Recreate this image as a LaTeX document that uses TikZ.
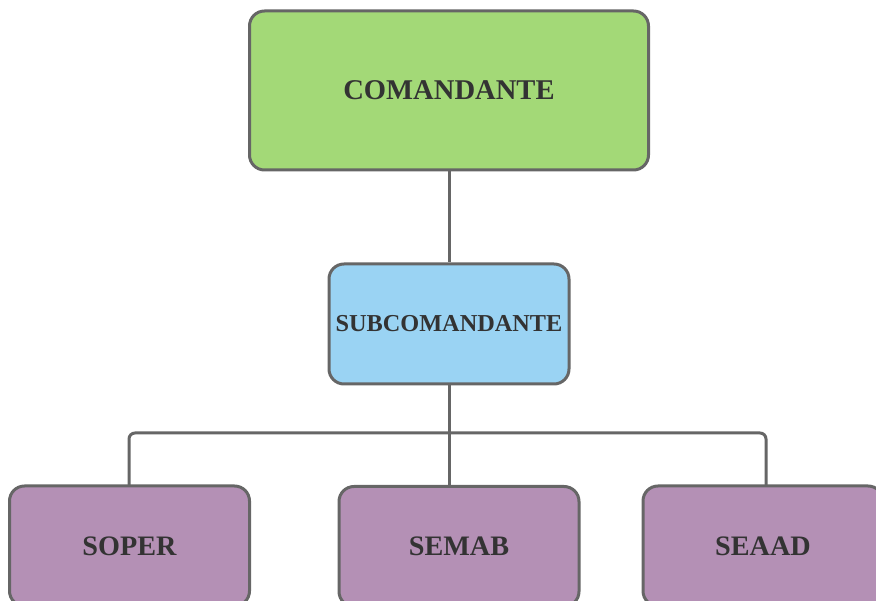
\documentclass[tikz,border=0pt]{standalone}
\usepackage{fontspec}
\setmainfont{Liberation Serif}
\usetikzlibrary{calc}
\definecolor{cgreen}{HTML}{A3D977}
\definecolor{cblue}{HTML}{9AD3F3}
\definecolor{cpurple}{HTML}{B490B5}
\definecolor{cline}{HTML}{666666}
\definecolor{ctext}{HTML}{333333}
\begin{document}
\begin{tikzpicture}[x=1pt,y=-1pt,
  orgbox/.style={draw=cline, line width=3pt, rounded corners=15pt, text=ctext,
    font=\bfseries, inner sep=0pt, align=center},
  conn/.style={draw=cline, line width=3pt}]
\useasboundingbox (0,0) rectangle (876,601);
\clip (0,0) rectangle (876,601);
\node[orgbox, fill=cgreen, minimum width=399pt, minimum height=159pt,
  font=\bfseries\fontsize{28.6}{32}\selectfont] (com) at (449,90.5) {COMANDANTE};
\node[orgbox, fill=cblue, minimum width=240pt, minimum height=120pt,
  font=\bfseries\fontsize{24.3}{28}\selectfont] (sub) at (449,324) {SUBCOMANDANTE};
\node[orgbox, fill=cpurple, minimum width=240pt, minimum height=120pt,
  font=\bfseries\fontsize{28.2}{32}\selectfont] (soper) at (129.5,546) {SOPER};
\node[orgbox, fill=cpurple, minimum width=240pt, minimum height=120pt,
  font=\bfseries\fontsize{28.2}{32}\selectfont] (semab) at (459,546.5) {SEMAB};
\node[orgbox, fill=cpurple, minimum width=240pt, minimum height=120pt,
  font=\bfseries\fontsize{28.2}{32}\selectfont] (seaad) at (763,546) {SEAAD};
\coordinate (bus) at (449,433);
\coordinate (soperin) at (129,486);
\coordinate (semabin) at (449,486.5);
\coordinate (seaadin) at (766,486);
\draw[conn] (com.south) -- (sub.north);
\draw[conn] (sub.south) -- (semabin);
\draw[conn, rounded corners=6pt] (bus) -| (soperin);
\draw[conn, rounded corners=6pt] (bus) -| (seaadin);
\end{tikzpicture}
\end{document}
